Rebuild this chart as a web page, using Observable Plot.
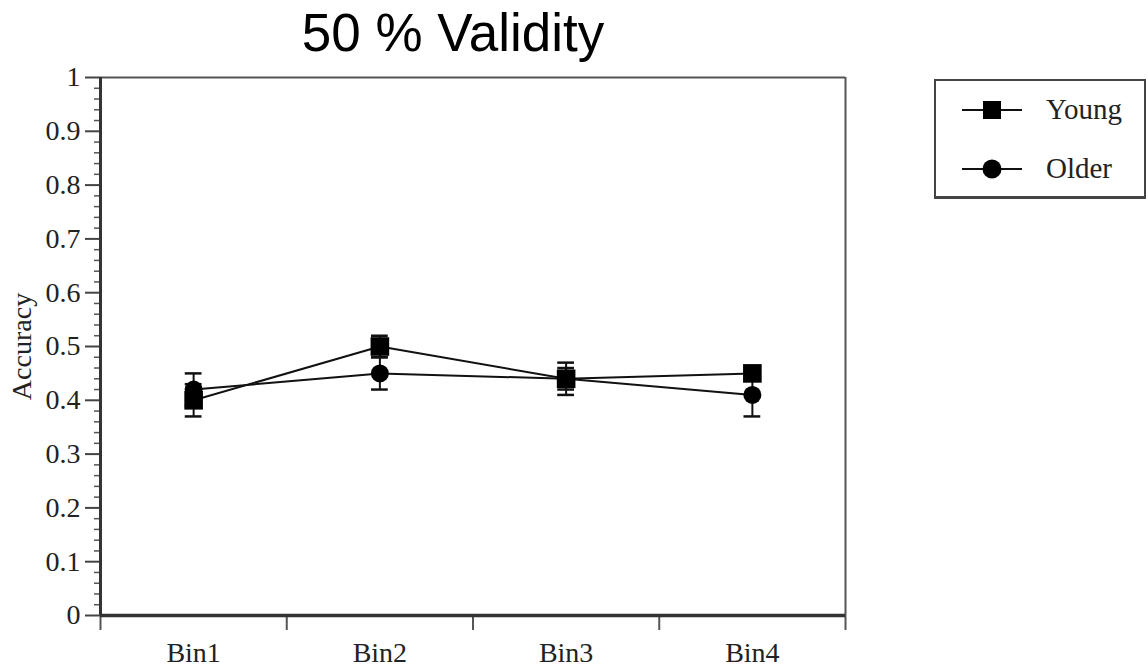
<!DOCTYPE html>
<html>
<head>
<meta charset="utf-8">
<script src="https://cdn.jsdelivr.net/npm/d3@7"></script>
<script src="https://cdn.jsdelivr.net/npm/@observablehq/plot@0.6"></script>
<style>
  html, body { margin: 0; padding: 0; background: #fff; }
  #wrap { position: relative; width: 1148px; height: 667px; overflow: hidden; }
  #title { position: absolute; left: 0; top: 0; width: 906px; height: 62px; text-align: center;
           font-family: "Liberation Sans", Arial, sans-serif; font-size: 53px; line-height: 66px; color: #000; }
  #chart { position: absolute; left: 0; top: 62px; }
  #legend { position: absolute; left: 934px; top: 79px; width: 208px; height: 115px;
            border: 2px solid #444; border-bottom-width: 3px; background: #fff; }
  #legend svg { position: absolute; left: 0; top: 0; }
</style>
</head>
<body>
<div id="wrap">
  <div id="title">50 % Validity</div>
  <div id="chart"></div>
  <div id="legend"></div>
</div>
<script>
// ---- data ----
const bins = ["Bin1", "Bin2", "Bin3", "Bin4"];
const groups = ["Young", "Older"];
const youngMean = [0.40, 0.50, 0.44, 0.45];
const youngErr  = [0.03, 0.02, 0.02, 0.01];
const olderMean = [0.42, 0.45, 0.44, 0.41];
const olderErr  = [0.03, 0.03, 0.03, 0.04];
const yTicks = [0, 0.1, 0.2, 0.3, 0.4, 0.5, 0.6, 0.7, 0.8, 0.9, 1];

const rows = [];
bins.forEach((b, i) => {
  rows.push({bin: b, idx: i + 0.5, group: "Young", mean: youngMean[i], err: youngErr[i]});
  rows.push({bin: b, idx: i + 0.5, group: "Older", mean: olderMean[i], err: olderErr[i]});
});
const young = rows.filter(d => d.group === "Young");
const older = rows.filter(d => d.group === "Older");

const serif = '"Liberation Serif", "Times New Roman", serif';
const capHalf = 0.045;
const minor = d3.range(0, 1.0001, 0.02).filter(v => Math.abs(v * 10 - Math.round(v * 10)) > 1e-6);

const plot = Plot.plot({
  width: 1148,
  height: 605,
  marginLeft: 100,
  marginRight: 303,
  marginTop: 15,
  marginBottom: 52,
  style: {fontFamily: serif, fontSize: "28px", color: "#222", background: "#fff"},
  x: {type: "linear", domain: [0, bins.length]},
  y: {domain: [0, 1]},
  marks: [
    // frame
    Plot.ruleY([1], {stroke: "#555", strokeWidth: 2}),
    Plot.ruleX([bins.length], {stroke: "#555", strokeWidth: 2}),
    // axes
    Plot.axisY({ticks: minor, tickSize: 6, tickFormat: () => "", stroke: "#555", strokeWidth: 1.5, label: null}),
    Plot.axisY({ticks: yTicks, tickSize: 15, tickPadding: 5, stroke: "#444", strokeWidth: 2,
                tickFormat: d => String(+d.toFixed(1)), label: null}),
    Plot.axisX({ticks: d3.range(0, bins.length + 1), tickSize: 15, tickFormat: () => "", stroke: "#555", strokeWidth: 2, label: null}),
    Plot.axisX({ticks: bins.map((b, i) => i + 0.5), tickSize: 0, tickPadding: 27,
                tickFormat: d => bins[Math.floor(d)], label: null}),
    Plot.text(["Accuracy"], {frameAnchor: "left", dx: -78, rotate: -90, fontSize: 28, fill: "#222", textAnchor: "middle"}),
    Plot.ruleX([0], {stroke: "#333", strokeWidth: 3}),
    Plot.ruleY([0], {stroke: "#333", strokeWidth: 3.5}),
    // lines
    Plot.line(young, {x: "idx", y: "mean", stroke: "#111", strokeWidth: 2}),
    Plot.line(older, {x: "idx", y: "mean", stroke: "#111", strokeWidth: 2}),
    // error bars
    Plot.ruleX(rows, {x: "idx", y1: d => d.mean - d.err, y2: d => d.mean + d.err, stroke: "#111", strokeWidth: 2}),
    Plot.ruleY(rows, {y: d => d.mean - d.err, x1: d => d.idx - capHalf, x2: d => d.idx + capHalf, stroke: "#111", strokeWidth: 2.5}),
    Plot.ruleY(rows, {y: d => d.mean + d.err, x1: d => d.idx - capHalf, x2: d => d.idx + capHalf, stroke: "#111", strokeWidth: 2.5}),
    // markers
    Plot.dot(older, {x: "idx", y: "mean", symbol: "circle", r: 9, fill: "#000"}),
    Plot.dot(young, {x: "idx", y: "mean", symbol: "square", r: 10.5, fill: "#000"})
  ]
});
document.getElementById("chart").appendChild(plot);

// legend
const lg = d3.select("#legend").append("svg").attr("width", 208).attr("height", 115);
groups.forEach((g, i) => {
  const y = 29 + i * 59;
  lg.append("line").attr("x1", 26).attr("x2", 86).attr("y1", y).attr("y2", y).attr("stroke", "#111").attr("stroke-width", 2);
  if (g === "Young") lg.append("rect").attr("x", 47).attr("y", y - 9).attr("width", 18).attr("height", 18).attr("fill", "#000");
  else lg.append("circle").attr("cx", 56).attr("cy", y).attr("r", 9.5).attr("fill", "#000");
  lg.append("text").attr("x", 110).attr("y", y + 9).attr("font-family", serif).attr("font-size", 29).attr("fill", "#222").text(g);
});
</script>
</body>
</html>
